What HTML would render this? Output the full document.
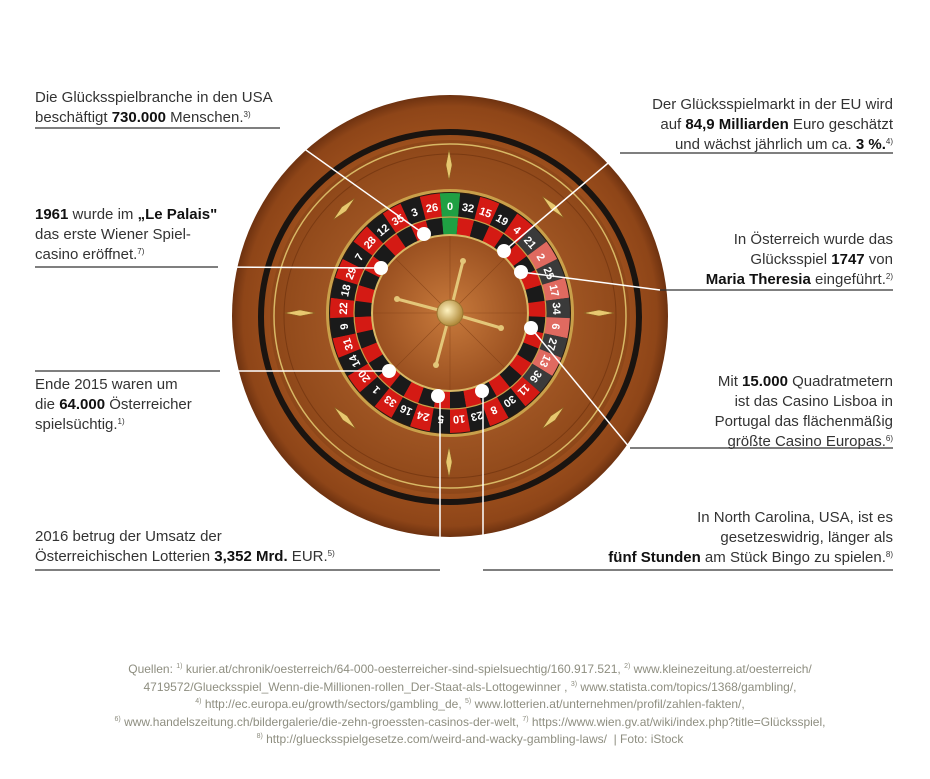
<!DOCTYPE html>
<html><head><meta charset="utf-8"><style>
body{margin:0;width:930px;height:779px;background:#fff;position:relative;overflow:hidden;font-family:"Liberation Sans",sans-serif;color:#333}
.t{position:absolute;font-size:15px;line-height:20px;white-space:nowrap}
.t b{color:#111}
.r{text-align:right}
sup{font-size:8px;vertical-align:5px;line-height:0}
.src{position:absolute;left:40px;width:860px;top:661px;text-align:center;font-size:12px;line-height:17.6px;color:#8e8e80}
.src sup{font-size:7px}
</style></head><body>
<svg width="930" height="779" style="position:absolute;left:0;top:0">
<defs>
<radialGradient id="wood" cx="0.5" cy="0.5" r="0.5">
<stop offset="0" stop-color="#b5652b"/><stop offset="0.75" stop-color="#a0521e"/><stop offset="0.95" stop-color="#8e4518"/><stop offset="1" stop-color="#6e3210"/></radialGradient>
<radialGradient id="bowl" cx="0.5" cy="0.5" r="0.5">
<stop offset="0" stop-color="#c07036"/><stop offset="1" stop-color="#8e4719"/></radialGradient>
<radialGradient id="cone" cx="0.5" cy="0.5" r="0.5">
<stop offset="0" stop-color="#c87a3c"/><stop offset="1" stop-color="#9a5020"/></radialGradient>
<radialGradient id="gold" cx="0.4" cy="0.4" r="0.6">
<stop offset="0" stop-color="#fff3c0"/><stop offset="1" stop-color="#b08a3a"/></radialGradient>
<path id="pk" d="M-10.18,-119.57 A120 120 0 0 1 10.18,-119.57 L8.14,-95.65 A96 96 0 0 0 -8.14,-95.65Z"/>
<path id="pi" d="M-8.14,-95.65 A96 96 0 0 1 8.14,-95.65 L6.61,-77.72 A78 78 0 0 0 -6.61,-77.72Z"/>
<path id="dm" d="M0 -15 L3 0 L0 15 L-3 0Z"/>
</defs>
<ellipse cx="450" cy="316" rx="218" ry="221" fill="url(#wood)"/>
<ellipse cx="450" cy="317" rx="189" ry="185" fill="none" stroke="#1a1410" stroke-width="6"/>
<ellipse cx="450" cy="317" rx="180" ry="177" fill="url(#bowl)"/>
<ellipse cx="450" cy="316" rx="176" ry="172" fill="none" stroke="#d8b865" stroke-width="1.5"/>
<ellipse cx="450" cy="316" rx="166" ry="162" fill="none" stroke="#7a3a12" stroke-width="1"/>
<g fill="#e8c870" stroke="#8a6420" stroke-width="0.5">
<use href="#dm" transform="translate(449,165)"/><use href="#dm" transform="translate(449,462)"/>
<use href="#dm" transform="translate(300,313) rotate(90)"/><use href="#dm" transform="translate(599,313) rotate(90)"/>
<use href="#dm" transform="translate(344,209) rotate(45)"/><use href="#dm" transform="translate(553,207) rotate(-45)"/>
<use href="#dm" transform="translate(345,418) rotate(-45)"/><use href="#dm" transform="translate(553,418) rotate(45)"/>
</g>
<g transform="translate(450,313)">
<circle r="124" fill="#c9a04a"/>
<circle r="121" fill="#2a1a10"/>
<g font-family="Liberation Sans" font-weight="bold" font-size="11" fill="#fff" text-anchor="middle">
<g><use href="#pk" fill="#1fa043"/><use href="#pi" fill="#1fa043"/><text y="-103">0</text></g>
<g transform="rotate(9.73)"><use href="#pk" fill="#1a1a1a"/><use href="#pi" fill="#d41a14"/><text y="-103">32</text></g>
<g transform="rotate(19.46)"><use href="#pk" fill="#d41a14"/><use href="#pi" fill="#1a1a1a"/><text y="-103">15</text></g>
<g transform="rotate(29.19)"><use href="#pk" fill="#1a1a1a"/><use href="#pi" fill="#d41a14"/><text y="-103">19</text></g>
<g transform="rotate(38.92)"><use href="#pk" fill="#d41a14"/><use href="#pi" fill="#1a1a1a"/><text y="-103">4</text></g>
<g transform="rotate(48.65)"><use href="#pk" fill="#3a3a3a"/><use href="#pi" fill="#d41a14"/><text y="-103">21</text></g>
<g transform="rotate(58.38)"><use href="#pk" fill="#e06a60"/><use href="#pi" fill="#1a1a1a"/><text y="-103">2</text></g>
<g transform="rotate(68.11)"><use href="#pk" fill="#3a3a3a"/><use href="#pi" fill="#d41a14"/><text y="-103">25</text></g>
<g transform="rotate(77.84)"><use href="#pk" fill="#e06a60"/><use href="#pi" fill="#1a1a1a"/><text y="-103">17</text></g>
<g transform="rotate(87.57)"><use href="#pk" fill="#3a3a3a"/><use href="#pi" fill="#d41a14"/><text y="-103">34</text></g>
<g transform="rotate(97.3)"><use href="#pk" fill="#e06a60"/><use href="#pi" fill="#1a1a1a"/><text y="-103">6</text></g>
<g transform="rotate(107.03)"><use href="#pk" fill="#3a3a3a"/><use href="#pi" fill="#d41a14"/><text y="-103">27</text></g>
<g transform="rotate(116.76)"><use href="#pk" fill="#e06a60"/><use href="#pi" fill="#1a1a1a"/><text y="-103">13</text></g>
<g transform="rotate(126.49)"><use href="#pk" fill="#3a3a3a"/><use href="#pi" fill="#d41a14"/><text y="-103">36</text></g>
<g transform="rotate(136.22)"><use href="#pk" fill="#d41a14"/><use href="#pi" fill="#1a1a1a"/><text y="-103">11</text></g>
<g transform="rotate(145.95)"><use href="#pk" fill="#1a1a1a"/><use href="#pi" fill="#d41a14"/><text y="-103">30</text></g>
<g transform="rotate(155.68)"><use href="#pk" fill="#d41a14"/><use href="#pi" fill="#1a1a1a"/><text y="-103">8</text></g>
<g transform="rotate(165.41)"><use href="#pk" fill="#1a1a1a"/><use href="#pi" fill="#d41a14"/><text y="-103">23</text></g>
<g transform="rotate(175.14)"><use href="#pk" fill="#d41a14"/><use href="#pi" fill="#1a1a1a"/><text y="-103">10</text></g>
<g transform="rotate(184.87)"><use href="#pk" fill="#1a1a1a"/><use href="#pi" fill="#d41a14"/><text y="-103">5</text></g>
<g transform="rotate(194.6)"><use href="#pk" fill="#d41a14"/><use href="#pi" fill="#1a1a1a"/><text y="-103">24</text></g>
<g transform="rotate(204.33)"><use href="#pk" fill="#1a1a1a"/><use href="#pi" fill="#d41a14"/><text y="-103">16</text></g>
<g transform="rotate(214.06)"><use href="#pk" fill="#d41a14"/><use href="#pi" fill="#1a1a1a"/><text y="-103">33</text></g>
<g transform="rotate(223.79)"><use href="#pk" fill="#1a1a1a"/><use href="#pi" fill="#d41a14"/><text y="-103">1</text></g>
<g transform="rotate(233.52)"><use href="#pk" fill="#d41a14"/><use href="#pi" fill="#1a1a1a"/><text y="-103">20</text></g>
<g transform="rotate(243.25)"><use href="#pk" fill="#1a1a1a"/><use href="#pi" fill="#d41a14"/><text y="-103">14</text></g>
<g transform="rotate(252.98)"><use href="#pk" fill="#d41a14"/><use href="#pi" fill="#1a1a1a"/><text y="-103">31</text></g>
<g transform="rotate(262.71)"><use href="#pk" fill="#1a1a1a"/><use href="#pi" fill="#d41a14"/><text y="-103">9</text></g>
<g transform="rotate(272.44)"><use href="#pk" fill="#d41a14"/><use href="#pi" fill="#1a1a1a"/><text y="-103">22</text></g>
<g transform="rotate(282.17)"><use href="#pk" fill="#1a1a1a"/><use href="#pi" fill="#d41a14"/><text y="-103">18</text></g>
<g transform="rotate(291.9)"><use href="#pk" fill="#d41a14"/><use href="#pi" fill="#1a1a1a"/><text y="-103">29</text></g>
<g transform="rotate(301.63)"><use href="#pk" fill="#1a1a1a"/><use href="#pi" fill="#d41a14"/><text y="-103">7</text></g>
<g transform="rotate(311.36)"><use href="#pk" fill="#d41a14"/><use href="#pi" fill="#1a1a1a"/><text y="-103">28</text></g>
<g transform="rotate(321.09)"><use href="#pk" fill="#1a1a1a"/><use href="#pi" fill="#d41a14"/><text y="-103">12</text></g>
<g transform="rotate(330.82)"><use href="#pk" fill="#d41a14"/><use href="#pi" fill="#1a1a1a"/><text y="-103">35</text></g>
<g transform="rotate(340.55)"><use href="#pk" fill="#1a1a1a"/><use href="#pi" fill="#d41a14"/><text y="-103">3</text></g>
<g transform="rotate(350.28)"><use href="#pk" fill="#d41a14"/><use href="#pi" fill="#1a1a1a"/><text y="-103">26</text></g>
</g>
<circle r="96" fill="none" stroke="#c9a04a" stroke-width="1.2"/>
<circle r="78" fill="url(#cone)" stroke="#d8b865" stroke-width="2"/>
<g stroke="#7a3a12" stroke-width="0.6" opacity="0.6">
<line x1="0" y1="-76" x2="0" y2="76"/><line x1="-76" y1="0" x2="76" y2="0"/>
<line x1="-54" y1="-54" x2="54" y2="54"/><line x1="54" y1="-54" x2="-54" y2="54"/>
</g>
<g stroke="#e3c679" stroke-width="3" stroke-linecap="round">
<line x1="0" y1="0" x2="13" y2="-52"/><line x1="0" y1="0" x2="-53" y2="-14"/>
<line x1="0" y1="0" x2="51" y2="15"/><line x1="0" y1="0" x2="-14" y2="52"/>
</g>
<g fill="#e3c679"><circle cx="13" cy="-52" r="3"/><circle cx="-53" cy="-14" r="3"/><circle cx="51" cy="15" r="3"/><circle cx="-14" cy="52" r="3"/></g>
<circle r="13" fill="url(#gold)" stroke="#9a7530" stroke-width="1"/>
</g>
<g stroke="#fff" stroke-width="1.5" fill="none">
<path d="M275 128 L424 234"/>
<path d="M215 267 L381 268"/>
<path d="M220 371 L389 371"/>
<path d="M440 570 L440 396"/>
<path d="M483 570 L483 391"/>
<path d="M630 448 L531 328"/>
<path d="M660 290 L521 272"/>
<path d="M620 153 L504 251"/>
</g>
<g fill="#fff"><circle cx="424" cy="234" r="7"/><circle cx="381" cy="268" r="7"/><circle cx="389" cy="371" r="7"/><circle cx="438" cy="396" r="7"/><circle cx="482" cy="391" r="7"/><circle cx="531" cy="328" r="7"/><circle cx="521" cy="272" r="7"/><circle cx="504" cy="251" r="7"/></g>
<g stroke="#333" stroke-width="1.3">
<line x1="35" y1="128" x2="280" y2="128"/>
<line x1="35" y1="267" x2="218" y2="267"/>
<line x1="35" y1="371" x2="220" y2="371"/>
<line x1="35" y1="570" x2="440" y2="570"/>
<line x1="483" y1="570" x2="893" y2="570"/>
<line x1="630" y1="448" x2="893" y2="448"/>
<line x1="660" y1="290" x2="893" y2="290"/>
<line x1="620" y1="153" x2="893" y2="153"/>
</g>
</svg>
<div class="t" style="left:35px;top:88px">Die Glücksspielbranche in den USA<br>beschäftigt <b>730.000</b> Menschen.<sup>3)</sup></div>
<div class="t" style="left:35px;top:205px"><b>1961</b> wurde im <b>„Le Palais"</b><br>das erste Wiener Spiel-<br>casino eröffnet.<sup>7)</sup></div>
<div class="t" style="left:35px;top:375px">Ende 2015 waren um<br>die <b>64.000</b> Österreicher<br>spielsüchtig.<sup>1)</sup></div>
<div class="t" style="left:35px;top:527px">2016 betrug der Umsatz der<br>Österreichischen Lotterien <b>3,352 Mrd.</b> EUR.<sup>5)</sup></div>
<div class="t r" style="right:37px;top:95px">Der Glücksspielmarkt in der EU wird<br>auf <b>84,9 Milliarden</b> Euro geschätzt<br>und wächst jährlich um ca. <b>3 %.</b><sup>4)</sup></div>
<div class="t r" style="right:37px;top:230px">In Österreich wurde das<br>Glücksspiel <b>1747</b> von<br><b>Maria Theresia</b> eingeführt.<sup>2)</sup></div>
<div class="t r" style="right:37px;top:372px">Mit <b>15.000</b> Quadratmetern<br>ist das Casino Lisboa in<br>Portugal das flächenmäßig<br>größte Casino Europas.<sup>6)</sup></div>
<div class="t r" style="right:37px;top:508px">In North Carolina, USA, ist es<br>gesetzeswidrig, länger als<br><b>fünf Stunden</b> am Stück Bingo zu spielen.<sup>8)</sup></div>
<div class="src">Quellen: <sup>1)</sup> kurier.at/chronik/oesterreich/64-000-oesterreicher-sind-spielsuechtig/160.917.521, <sup>2)</sup> www.kleinezeitung.at/oesterreich/<br>4719572/Gluecksspiel_Wenn-die-Millionen-rollen_Der-Staat-als-Lottogewinner , <sup>3)</sup> www.statista.com/topics/1368/gambling/,<br><sup>4)</sup> http://ec.europa.eu/growth/sectors/gambling_de, <sup>5)</sup> www.lotterien.at/unternehmen/profil/zahlen-fakten/,<br><sup>6)</sup> www.handelszeitung.ch/bildergalerie/die-zehn-groessten-casinos-der-welt, <sup>7)</sup> https://www.wien.gv.at/wiki/index.php?title=Glücksspiel,<br><sup>8)</sup> http://gluecksspielgesetze.com/weird-and-wacky-gambling-laws/ &nbsp;| Foto: iStock</div>
</body></html>
